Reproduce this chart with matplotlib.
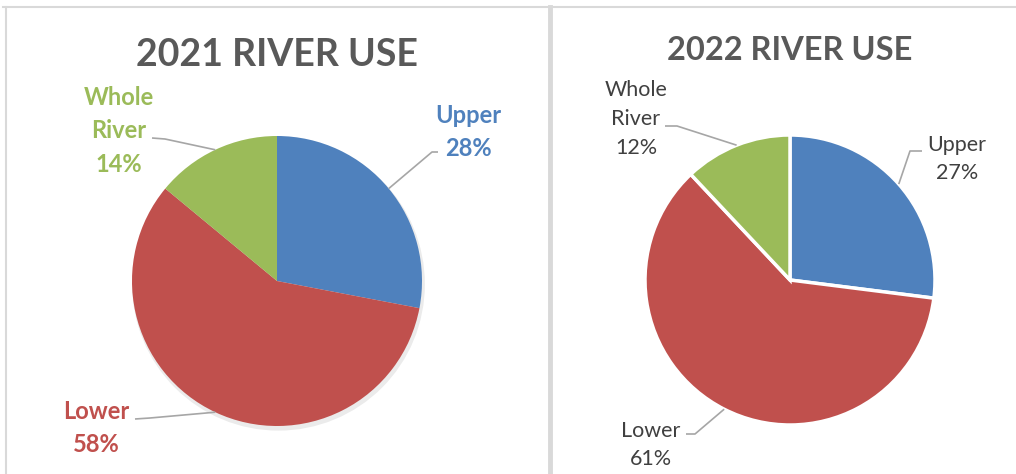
import numpy as np
import matplotlib.pyplot as plt
from matplotlib.lines import Line2D

plt.rcParams['font.family'] = ['Lato', 'DejaVu Sans']

labels = ['Upper', 'Lower', 'Whole\nRiver']
share_2021 = [28, 58, 14]
share_2022 = [27, 61, 12]
colors = ['#4F81BD', '#C0504D', '#9BBB59']

W, H = 1016, 474
R = 145  # pie radius in px
fig = plt.figure(figsize=(W / 100, H / 100), dpi=100)


def px_axes(x0, y0, x1, y1, cx, cy):
    ax = fig.add_axes([x0 / W, 1 - y1 / H, (x1 - x0) / W, (y1 - y0) / H])
    return ax, ((x0 - cx) / R, (x1 - cx) / R), ((cy - y1) / R, (cy - y0) / R)


def to_data(p, cx, cy):
    return ((p[0] - cx) / R, (cy - p[1]) / R)


def draw_pie(ax, xl, yl, values, cx, cy, text_pos, elbows, bold, wedgeprops):
    wedges, _ = ax.pie(values, colors=colors, startangle=90, counterclock=False,
                       radius=1, wedgeprops=wedgeprops)
    for i, w in enumerate(wedges):
        mid = np.deg2rad((w.theta1 + w.theta2) / 2)
        edge = (np.cos(mid), np.sin(mid))
        pts = [to_data(p, cx, cy) for p in elbows[i]] + [edge]
        ax.plot([p[0] for p in pts], [p[1] for p in pts], color='#A6A6A6', lw=1.2,
                solid_capstyle='butt')
        tx, ty = to_data(text_pos[i], cx, cy)
        txt = f"{labels[i]}\n{values[i]}%"
        if bold:
            ax.text(tx, ty, txt, ha='center', va='center', fontsize=17, fontweight='bold',
                    color=colors[i], linespacing=1.55)
        else:
            ax.text(tx, ty, txt, ha='center', va='center', fontsize=15.5,
                    color='#404040', linespacing=1.55)
    ax.set_xlim(*xl)
    ax.set_ylim(*yl)
    ax.set_aspect('auto')
    ax.axis('off')


# 2021
cx1, cy1 = 277, 281
ax1, xl, yl = px_axes(7, 7, 548, 474, cx1, cy1)
shadow = plt.Circle((0.01, -0.022), 1.01, color='#000000', alpha=0.08, lw=0, zorder=0)
ax1.add_patch(shadow)
draw_pie(ax1, xl, yl, share_2021, cx1, cy1,
         text_pos=[(468, 132), (96, 428), (119, 131)],
         elbows=[[(438, 152), (432, 152)], [(135, 419), (150, 418)], [(152, 138), (165, 139)]],
         bold=True, wedgeprops=dict(linewidth=0))
ax1.text(0, to_data((0, 55), cx1, cy1)[1], '2021 RIVER USE', ha='center', va='center',
         fontsize=27, fontweight='bold', color='#595959')

# 2022
cx2, cy2 = 790, 280
ax2, xl, yl = px_axes(553, 7, 1016, 474, cx2, cy2)
draw_pie(ax2, xl, yl, share_2022, cx2, cy2,
         text_pos=[(957, 159), (651, 445), (636, 119)],
         elbows=[[(922, 151), (910, 151)], [(686, 434), (695, 434)], [(665, 126), (677, 126)]],
         bold=False, wedgeprops=dict(edgecolor='white', linewidth=2.5))
ax2.text(0, to_data((0, 51), cx2, cy2)[1], '2022 RIVER USE', ha='center', va='center',
         fontsize=23.5, fontweight='bold', color='#595959')

# panel borders
def fig_line(xs, ys, lw):
    fig.add_artist(Line2D([x / W for x in xs], [1 - y / H for y in ys], color='#D9D9D9',
                          lw=lw, transform=fig.transFigure))

fig_line([3, 1016], [7, 7], 1.5)
fig_line([6, 6], [7, 474], 1.5)
fig_line([550, 550], [7, 474], 3.5)

fig.savefig('out.png', dpi=100)
